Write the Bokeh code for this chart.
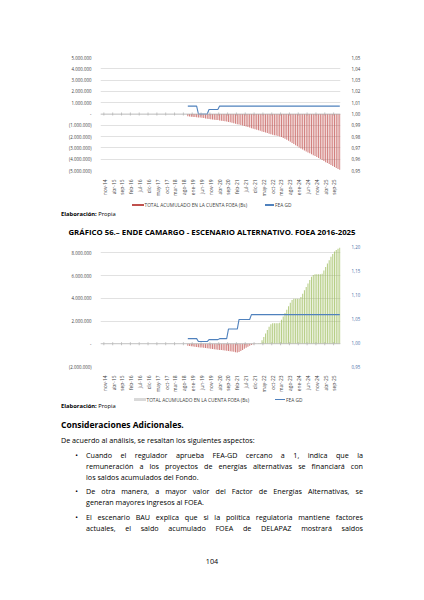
import math
from bokeh.plotting import figure
from bokeh.models import (LinearAxis, Range1d, FixedTicker, Span, ColumnDataSource, Div)
from bokeh.layouts import column
from bokeh.embed import file_html
from bokeh.resources import INLINE

# meses de la serie: nov-14 ... dic-25
MES = ["ene", "feb", "mar", "abr", "may", "jun", "jul", "ago", "sep", "oct", "nov", "dic"]
months = [f"{MES[(10 + i) % 12]}-{14 + (10 + i) // 12:02d}" for i in range(134)]

tick_labels = ["nov-14", "abr-15", "sep-15", "feb-16", "jul-16", "dic-16", "may-17",
               "oct-17", "mar-18", "ago-18", "ene-19", "jun-19", "nov-19", "abr-20",
               "sep-20", "feb-21", "jul-21", "dic-21", "may-22", "oct-22", "mar-23",
               "ago-23", "ene-24", "jun-24", "nov-24", "abr-25", "sep-25"]

first_month = "oct-18"

# Grafico 55 (escenario BAU) - total acumulado cuenta FOEA (Bs), oct-18 ... dic-25
foea_bau = [
    -200000, -220000, -240000,
    -260000, -275000, -290000, -305000, -320000, -340000, -365000, -390000, -410000, -435000, -460000, -480000,
    -500000, -520000, -540000, -570000, -595000, -620000, -645000, -670000, -700000, -740000, -780000, -820000,
    -860000, -900000, -940000, -980000, -1020000, -1060000, -1100000, -1150000, -1200000, -1250000, -1295000, -1340000,
    -1390000, -1440000, -1490000, -1540000, -1590000, -1640000, -1690000, -1740000, -1785000, -1830000, -1870000, -1910000,
    -1950000, -1990000, -2030000, -2115000, -2200000, -2285000, -2370000, -2460000, -2560000, -2660000, -2760000, -2865000,
    -2970000, -3060000, -3145000, -3230000, -3315000, -3400000, -3480000, -3560000, -3640000, -3720000, -3800000, -3895000,
    -3990000, -4080000, -4170000, -4260000, -4345000, -4430000, -4515000, -4600000, -4690000, -4775000, -4860000, -4940000,
]
fea_bau_months = ["oct-18", "mar-19", "abr-19", "sep-19", "oct-19", "mar-20", "abr-20", "dic-25"]
fea_bau_values = [1.007, 1.007, 1.000, 1.000, 1.004, 1.004, 1.007, 1.007]

# Grafico 56 (escenario alternativo)
foea_alt = [
    -180000, -200000, -220000,
    -240000, -260000, -280000, -300000, -320000, -340000, -360000, -380000, -400000, -420000, -440000, -460000,
    -480000, -500000, -520000, -540000, -560000, -580000, -600000, -620000, -640000, -660000, -680000, -700000,
    -740000, -780000, -720000, -630000, -540000, -450000, -360000, -270000, -180000, -100000, -50000, -20000,
    -10000, 20000, 50000, 300000, 600000, 900000, 1200000, 1500000, 1720000, 1800000, 1800000, 1800000,
    1800000, 1850000, 2100000, 2400000, 2700000, 3000000, 3300000, 3600000, 3850000, 3950000, 3950000, 3950000,
    3950000, 4100000, 4400000, 4700000, 5000000, 5300000, 5600000, 5900000, 6050000, 6100000, 6100000, 6100000,
    6100000, 6150000, 6450000, 6750000, 7050000, 7350000, 7650000, 7900000, 8100000, 8250000, 8350000, 8450000,
]
fea_alt_months = ["oct-18", "mar-19", "abr-19", "sep-19", "oct-19", "mar-20", "abr-20", "ago-20",
                  "sep-20", "feb-21", "mar-21", "sep-21", "oct-21", "dic-25"]
fea_alt_values = [1.008, 1.008, 1.002, 1.002, 1.006, 1.006, 1.008, 1.008,
                  1.028, 1.028, 1.048, 1.048, 1.058, 1.058]

bau_left_ticks = [-5000000, -4000000, -3000000, -2000000, -1000000, 0,
                  1000000, 2000000, 3000000, 4000000, 5000000]
bau_left_labels = ["(5.000.000)", "(4.000.000)", "(3.000.000)", "(2.000.000)", "(1.000.000)", "-",
                   "1.000.000", "2.000.000", "3.000.000", "4.000.000", "5.000.000"]
bau_right_ticks = [0.95, 0.96, 0.97, 0.98, 0.99, 1.00, 1.01, 1.02, 1.03, 1.04, 1.05]
bau_right_labels = ["0,95", "0,96", "0,97", "0,98", "0,99", "1,00", "1,01", "1,02", "1,03", "1,04", "1,05"]

alt_left_ticks = [-2000000, 0, 2000000, 4000000, 6000000, 8000000]
alt_left_labels = ["(2.000.000)", "-", "2.000.000", "4.000.000", "6.000.000", "8.000.000"]
alt_right_ticks = [0.95, 1.00, 1.05, 1.10, 1.15, 1.20]
alt_right_labels = ["0,95", "1,00", "1,05", "1,10", "1,15", "1,20"]

LABEL_BARS = "TOTAL ACUMULADO EN LA CUENTA FOEA (Bs)"
LABEL_FEA = "FEA GD"

FONT = "Open Sans"
TXT = "#404040"
BLUE = "#4f81bd"
RED = "#c0504d"
GREEN = "#9bbb59"


def make_chart(values, fea_months, fea_values, y_rng, yr_rng, left_ticks, left_labels,
               right_ticks, right_labels, frame_h, top_b, bottom_b, right_color, alt):
    p = figure(width=424, height=top_b + frame_h + bottom_b,
               x_range=Range1d(-2.4, 133.4), y_range=Range1d(*y_rng),
               toolbar_location=None, output_backend="svg",
               min_border_left=100, min_border_right=84,
               min_border_top=top_b, min_border_bottom=bottom_b,
               background_fill_color="white", border_fill_color="white")
    p.outline_line_color = None
    p.extra_y_ranges = {"fea": Range1d(*yr_rng)}

    p.xgrid.visible = False
    p.ygrid.ticker = FixedTicker(ticks=left_ticks)
    p.ygrid.grid_line_color = "#d9d9d9"
    p.ygrid.grid_line_width = 0.8

    # eje de categorias en cero
    tick_x = [months.index(m) - 0.5 for m in tick_labels]
    p.add_layout(Span(location=0, dimension="width", line_color="#bfbfbf", line_width=0.8))
    p.scatter(x=tick_x, y=[0] * len(tick_x), marker="dash", angle=math.pi / 2, size=3,
              line_color="#a6a6a6", line_width=0.7)

    start = months.index(first_month)
    xs = list(range(start, start + len(values)))
    if alt:
        colors = [RED if v < 0 else GREEN for v in values]
    else:
        colors = [RED] * len(values)
    src = ColumnDataSource(dict(x=xs, top=values, color=colors))
    p.vbar(x="x", top="top", width=0.6, source=src, fill_color="color",
           fill_alpha=0.72, line_color=None)

    fx = [months.index(m) for m in fea_months]
    p.line(fx, fea_values, y_range_name="fea", line_color=BLUE, line_width=1.1)

    # ejes
    xa = p.xaxis[0]
    xa.ticker = FixedTicker(ticks=[months.index(m) for m in tick_labels])
    xa.major_label_overrides = {months.index(m): m for m in tick_labels}
    xa.major_label_orientation = math.pi / 2
    xa.axis_line_color = None
    xa.major_tick_line_color = None
    xa.minor_tick_line_color = None
    xa.major_label_standoff = 3
    xa.major_label_text_font = FONT
    xa.major_label_text_font_size = "4.9px"
    xa.major_label_text_color = TXT

    ya = p.yaxis[0]
    ya.ticker = FixedTicker(ticks=left_ticks)
    ya.major_label_overrides = dict(zip(left_ticks, left_labels))
    ya.axis_line_color = None
    ya.major_tick_line_color = None
    ya.minor_tick_line_color = None
    ya.major_label_standoff = 3
    ya.major_label_text_font = FONT
    ya.major_label_text_font_size = "4.4px"
    ya.major_label_text_color = TXT

    ra = LinearAxis(y_range_name="fea", ticker=FixedTicker(ticks=right_ticks))
    ra.major_label_overrides = dict(zip(right_ticks, right_labels))
    ra.axis_line_color = None
    ra.major_tick_line_color = None
    ra.minor_tick_line_color = None
    ra.major_label_standoff = 5
    ra.major_label_text_font = FONT
    ra.major_label_text_font_size = "4.4px"
    ra.major_label_text_color = right_color
    p.add_layout(ra, "right")
    return p


p1 = make_chart(foea_bau, fea_bau_months, fea_bau_values, (-5000000, 5000000), (0.95, 1.05),
                bau_left_ticks, bau_left_labels, bau_right_ticks, bau_right_labels,
                118, 57, 24, TXT, False)
p2 = make_chart(foea_alt, fea_alt_months, fea_alt_values, (-2000000, 8550000), (0.95, 1.20),
                alt_left_ticks, alt_left_labels, alt_right_ticks, alt_right_labels,
                124, 6, 25, "#4a70a8", True)

BODY = f"font-family:'{FONT}';color:#000;white-space:nowrap;"


def line_div(text, left, top, width=None, size=7.2, lh=9, weight="normal", just=False,
             align="left", color="#000"):
    st = (f"position:absolute;left:{left}px;top:{top}px;line-height:{lh}px;"
          f"font-size:{size}px;font-weight:{weight};color:{color};")
    if width is not None:
        st += f"width:{width}px;"
    if just:
        st += "text-align:justify;text-align-last:justify;"
    else:
        st += f"text-align:{align};"
    return f'<div style="{st}">{text}</div>'


def box(left, top, w, h, color):
    return (f'<div style="position:absolute;left:{left}px;top:{top}px;width:{w}px;'
            f'height:{h}px;background:{color};"></div>')


def legend_html(cy, sw_left, sw_color, txt_left, ln_left, ln_w, txt2_left):
    return (box(sw_left, cy - 1.4, 11.5, 2.8, sw_color)
            + line_div(LABEL_BARS, txt_left, cy - 3, size=4.8, lh=6, color=TXT)
            + box(ln_left, cy - 0.6, ln_w, 1.2, BLUE)
            + line_div(LABEL_FEA, txt2_left, cy - 3, size=4.8, lh=6, color=TXT))


ELAB = "<b>Elaboración:</b> Propia"
TITLE = "GRÁFICO 56.– ENDE CAMARGO - ESCENARIO ALTERNATIVO. FOEA 2016-2025"

# bloque entre los dos graficos (y de pagina 199 a 240)
d1_html = (f'<div style="position:relative;width:424px;height:41px;{BODY}">'
           + legend_html(6, 132, RED, 144.5, 264.5, 9, 275)
           + line_div(ELAB, 61, 11.5, size=5.8, lh=7)
           + line_div(TITLE, 0, 28, width=424, size=7.8, lh=10, weight="bold", align="center")
           + "</div>")
d1 = Div(text=d1_html, width=424, height=41, margin=0)

bullets = [
    ["Cuando el regulador aprueba FEA-GD cercano a 1, indica que la",
     "remuneración a los proyectos de energías alternativas se financiará con",
     "los saldos acumulados del Fondo."],
    ["De otra manera, a mayor valor del Factor de Energías Alternativas, se",
     "generan mayores ingresos al FOEA."],
    ["El escenario BAU explica que si la política regulatoria mantiene factores",
     "actuales, el saldo acumulado FOEA de DELAPAZ mostrará saldos"],
]
bullet_centers = [[60.3, 71.3, 82.3], [96.7, 107.7], [122.7, 133.7]]
bullet_full = [[True, True, False], [True, False], [True, True]]

# bloque final (y de pagina 395 a 570)
parts = [legend_html(4.7, 134, "#d9d9d9", 146.5, 275, 10, 286),
         line_div(ELAB, 61, 8.2, size=5.8, lh=7),
         line_div("Consideraciones Adicionales.", 61, 23.8, size=8.5, lh=11, weight="bold"),
         line_div("De acuerdo al análisis, se resaltan los siguientes aspectos:", 61, 40.8)]
for lines, centers, full in zip(bullets, bullet_centers, bullet_full):
    parts.append(line_div("•", 75.3, centers[0] - 4.5))
    for t, c, f in zip(lines, centers, full):
        parts.append(line_div(t, 86, c - 4.5, width=277, just=f))
parts.append(line_div("104", 0, 161.5, width=424, align="center"))

d2_html = f'<div style="position:relative;width:424px;height:175px;{BODY}">' + "".join(parts) + "</div>"
d2 = Div(text=d2_html, width=424, height=175, margin=0)

layout = column(p1, d1, p2, d2, spacing=0)
open("out.html", "w").write(file_html(layout, INLINE))
